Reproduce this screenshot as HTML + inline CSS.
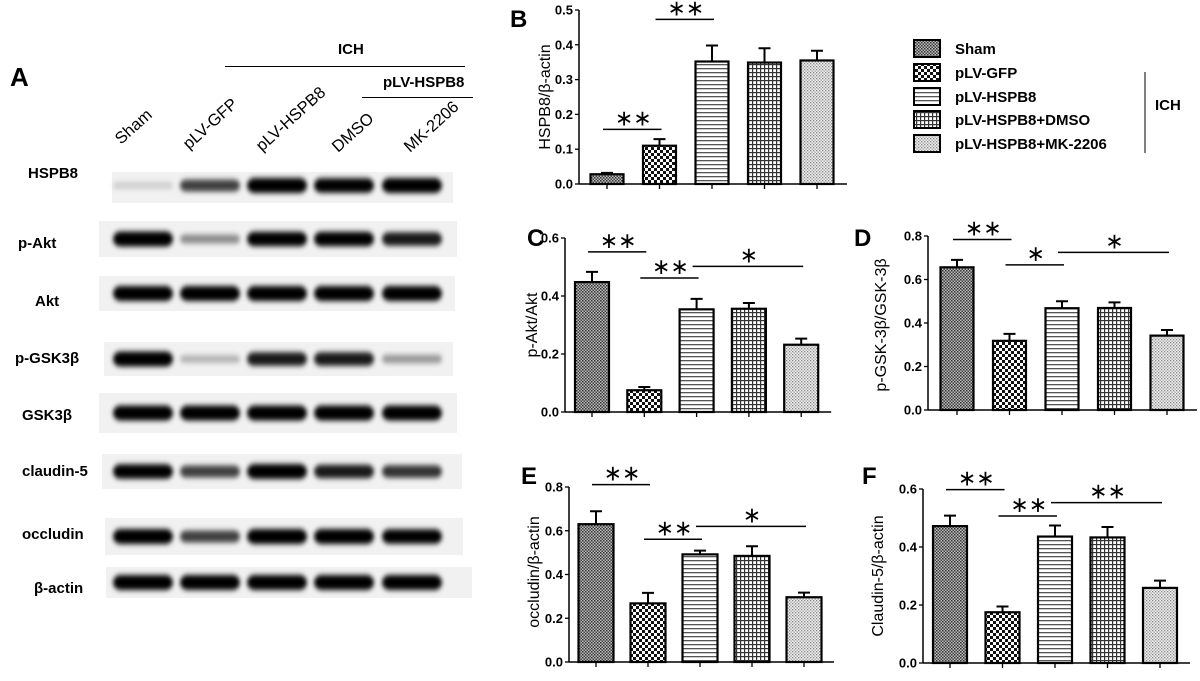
<!DOCTYPE html>
<html><head><meta charset="utf-8"><style>
html,body{margin:0;padding:0;background:#fff;}
svg{display:block;font-family:"Liberation Sans",Arial,sans-serif;}
</style></head><body>
<svg id="fig" width="1200" height="681" viewBox="0 0 1200 681">
<defs>
<filter id="blur" x="-20%" y="-100%" width="140%" height="300%"><feGaussianBlur stdDeviation="2.2 2.6"/></filter>
<pattern id="p0" width="3" height="3" patternUnits="userSpaceOnUse"><rect width="3" height="3" fill="#bbb"/><rect width="1.5" height="1.5" fill="#333"/><rect x="1.5" y="1.5" width="1.5" height="1.5" fill="#444"/></pattern>
<pattern id="p1" width="6" height="6" patternUnits="userSpaceOnUse"><rect width="6" height="6" fill="#fff"/><rect width="3" height="3" fill="#111"/><rect x="3" y="3" width="3" height="3" fill="#111"/></pattern>
<pattern id="p2" width="4" height="4" patternUnits="userSpaceOnUse"><rect width="4" height="4" fill="#fff"/><rect y="0" width="4" height="1.3" fill="#555"/></pattern>
<pattern id="p3" width="4" height="4" patternUnits="userSpaceOnUse"><rect width="4" height="4" fill="#fff"/><rect width="4" height="1.2" fill="#333"/><rect width="1.2" height="4" fill="#333"/></pattern>
<pattern id="p4" width="3" height="3" patternUnits="userSpaceOnUse"><rect width="3" height="3" fill="#eee"/><rect width="1.3" height="1.3" fill="#888"/><rect x="1.5" y="1.5" width="1.3" height="1.3" fill="#999"/></pattern>
</defs>
<g id="blotA"></g>
<g id="charts"></g>
<g id="legend"></g>
</svg>
<script>
const NS="http://www.w3.org/2000/svg";
function mk(parent,tag,attrs,text){const e=document.createElementNS(NS,tag);for(const k in attrs)e.setAttribute(k,attrs[k]);if(text!==undefined)e.textContent=text;parent.appendChild(e);return e;}

// ---------- Panel A blot ----------
const laneNames=["Sham","pLV-GFP","pLV-HSPB8","DMSO","MK-2206"];
const blotRows=["HSPB8","p-Akt","Akt","p-GSK3β","GSK3β","claudin-5","occludin","β-actin"];
const hspb8Int=[0.15,0.7,1,0.95,1];
const pAktInt=[1,0.4,0.95,0.95,0.85];
const aktInt=[1,1,1,1,1];
const pGskInt=[1,0.25,0.85,0.85,0.35];
const gskInt=[1,1,1,1,1];
const claudinInt=[0.95,0.7,1,0.85,0.75];
const occludinInt=[1,0.7,1,1,0.95];
const actinInt=[1,1,1,1,1];
const rowInts=[hspb8Int,pAktInt,aktInt,pGskInt,gskInt,claudinInt,occludinInt,actinInt];
const stripTop=[172,221,276,342,393,454,518,567];
const stripH=[31,36,35,34,40,35,37,31];
const stripX=[[112,453],[99,457],[99,455],[104,453],[99,457],[102,462],[105,463],[106,472]];
const labX=[28,18,35,15,22,22,22,34];
const labY=[178,248,306,363,420,476,539,593];
const laneC=[143,210,277,344,412];
const blot=document.getElementById('blotA');
mk(blot,'text',{x:10,y:86,'font-size':26,'font-weight':'bold'},'A');
laneNames.forEach((n,i)=>{
  const sx=[121,189,262,338,410][i], sy=[145,150,152,153,153][i];
  const t=mk(blot,'text',{x:sx,y:sy,'font-size':16.5,transform:`rotate(-42 ${sx} ${sy})`},n);
  
  
});
mk(blot,'text',{x:338,y:54,'font-size':15,'font-weight':'bold'},'ICH');
mk(blot,'line',{x1:225,x2:465,y1:66.5,y2:66.5,stroke:'#000','stroke-width':1});
mk(blot,'text',{x:383,y:87,'font-size':15,'font-weight':'bold'},'pLV-HSPB8');
mk(blot,'line',{x1:362,x2:473,y1:97.5,y2:97.5,stroke:'#000','stroke-width':1});
blotRows.forEach((r,ri)=>{
  const t=mk(blot,'text',{x:labX[ri],y:labY[ri],'font-size':15,'font-weight':'bold'},r);
  
  
  const s=mk(blot,'rect',{x:stripX[ri][0],y:stripTop[ri],width:stripX[ri][1]-stripX[ri][0],height:stripH[ri],fill:'#f1f1f1'});
  
  
  const cy=stripTop[ri]+stripH[ri]/2+(ri==0?-2:0);
  rowInts[ri].forEach((v,li)=>{
    const h=5+v*10;
    const b=mk(blot,'rect',{x:laneC[li]-30,y:cy-h/2,width:60,height:h,rx:h/2,fill:'#000','fill-opacity':Math.min(1,v*1.05),filter:'url(#blur)'});
    
    
  });
});

// ---------- Bar charts ----------
const groups=["Sham","pLV-GFP","pLV-HSPB8","pLV-HSPB8+DMSO","pLV-HSPB8+MK-2206"];
const bMeans=[0.028,0.11,0.352,0.349,0.355]; const bErr=[0.032,0.129,0.398,0.39,0.383];
const cMeans=[0.448,0.075,0.354,0.356,0.232]; const cErr=[0.483,0.086,0.39,0.376,0.253];
const dMeans=[0.656,0.318,0.468,0.469,0.342]; const dErr=[0.69,0.35,0.5,0.495,0.368];
const eMeans=[0.63,0.268,0.492,0.485,0.296]; const eErr=[0.689,0.316,0.509,0.529,0.317];
const fMeans=[0.472,0.175,0.436,0.433,0.259]; const fErr=[0.508,0.195,0.474,0.469,0.284];
const bTicks=["0.0","0.1","0.2","0.3","0.4","0.5"];
const cTicks=["0.0","0.2","0.4","0.6"];
const dTicks=["0.0","0.2","0.4","0.6","0.8"];
const eTicks=["0.0","0.2","0.4","0.6","0.8"];
const fTicks=["0.0","0.2","0.4","0.6"];
// significance: [from bar, to bar, y value, label]
const bSig=[[0,1,0.157,"**"],[1,2,0.473,"**"]];
const cSig=[[0,1,0.552,"**"],[1,2,0.462,"**"],[2,4,0.502,"*"]];
const dSig=[[0,1,0.784,"**"],[1,2,0.667,"*"],[2,4,0.725,"*"]];
const eSig=[[0,1,0.811,"**"],[1,2,0.561,"**"],[2,4,0.62,"*"]];
const fSig=[[0,1,0.598,"**"],[1,2,0.507,"**"],[2,4,0.553,"**"]];

const panels=[
 {id:'b',letter:'B',lx:510,ly:27,ax:579,y0:184,y1:10,max:0.5,c0:607,step:52.5,bw:33,means:bMeans,err:bErr,ticks:bTicks,sig:bSig,title:'HSPB8/β-actin',tx:550,ty:97},
 {id:'c',letter:'C',lx:527,ly:246,ax:565,y0:412,y1:238,max:0.6,c0:592,step:52.3,bw:34,means:cMeans,err:cErr,ticks:cTicks,sig:cSig,title:'p-Akt/Akt',tx:537,ty:325},
 {id:'d',letter:'D',lx:854,ly:246,ax:928,y0:410,y1:236,max:0.8,c0:957,step:52.5,bw:33,means:dMeans,err:dErr,ticks:dTicks,sig:dSig,title:'p-GSK-3β/GSK-3β',tx:886,ty:325},
 {id:'e',letter:'E',lx:521,ly:484,ax:569,y0:662,y1:487,max:0.8,c0:596,step:52,bw:35,means:eMeans,err:eErr,ticks:eTicks,sig:eSig,title:'occludin/β-actin',tx:539,ty:572},
 {id:'f',letter:'F',lx:862,ly:484,ax:923,y0:663,y1:489,max:0.6,c0:950,step:52.5,bw:34,means:fMeans,err:fErr,ticks:fTicks,sig:fSig,title:'Claudin-5/β-actin',tx:883,ty:576}
];
const charts=document.getElementById('charts');
panels.forEach(p=>{
  const g=mk(charts,'g',{});
  
  
  const yS=v=>p.y0-(v/p.max)*(p.y0-p.y1);
  const xS=i=>p.c0+i*p.step;
  const lt=mk(g,'text',{x:p.lx,y:p.ly,'font-size':24,'font-weight':'bold'},p.letter);
  
  
  const yt=mk(g,'text',{x:p.tx,y:p.ty,'font-size':16,'text-anchor':'middle',transform:`rotate(-90 ${p.tx} ${p.ty})`},p.title);
  
  
  p.means.forEach((m,i)=>{
    const x=xS(i);
    const e=mk(g,'path',{d:`M${x} ${yS(m)}V${yS(p.err[i])}M${x-6} ${yS(p.err[i])}H${x+6}`,stroke:'#000','stroke-width':2,fill:'none'});
    
    
    const r=mk(g,'rect',{x:x-p.bw/2,y:yS(m),width:p.bw,height:p.y0-yS(m),fill:`url(#p${i})`,stroke:'#000','stroke-width':2.2});
    
    
  });
  const xa=mk(g,'line',{x1:p.ax,x2:xS(4)+30,y1:p.y0,y2:p.y0,stroke:'#000','stroke-width':1.5});
  
  
  const ya=mk(g,'line',{x1:p.ax,x2:p.ax,y1:p.y0,y2:p.y1,stroke:'#000','stroke-width':1.5});
  
  
  p.means.forEach((m,i)=>mk(g,'line',{x1:xS(i),x2:xS(i),y1:p.y0,y2:p.y0+5,stroke:'#000','stroke-width':1.3}));
  p.ticks.forEach(t=>{
    const v=parseFloat(t);
    mk(g,'line',{x1:p.ax-4,x2:p.ax,y1:yS(v),y2:yS(v),stroke:'#000','stroke-width':1.3});
    const tl=mk(g,'text',{x:p.ax-6,y:yS(v)+4.5,'font-size':13,'font-weight':'bold','text-anchor':'end'},t);
    
    
  });
  p.sig.forEach(s=>{
    const y=yS(s[2]);
    const l=mk(g,'line',{x1:xS(s[0])-4,x2:xS(s[1])+2,y1:y,y2:y,stroke:'#000','stroke-width':1.5});
    
    
    const st=mk(g,'text',{x:(xS(s[0])+xS(s[1]))/2,y:y-4,'font-size':22,'text-anchor':'middle'},s[3].replace(/\*/g,'∗'));
    
    
  });
});

// ---------- Legend ----------
const lg=document.getElementById('legend');
const legY=[48,72,96,119,143];
groups.forEach((n,i)=>{
  const r=mk(lg,'rect',{x:914,y:legY[i]-8,width:26,height:17,fill:`url(#p${i})`,stroke:'#000','stroke-width':2});
  
  
  const t=mk(lg,'text',{x:955,y:legY[i]+6,'font-size':15,'font-weight':'bold'},n);
  
  
});
mk(lg,'line',{x1:1145,x2:1145,y1:72,y2:153,stroke:'#000','stroke-width':1});
mk(lg,'text',{x:1155,y:110,'font-size':15,'font-weight':'bold'},'ICH');
</script>
</body></html>
